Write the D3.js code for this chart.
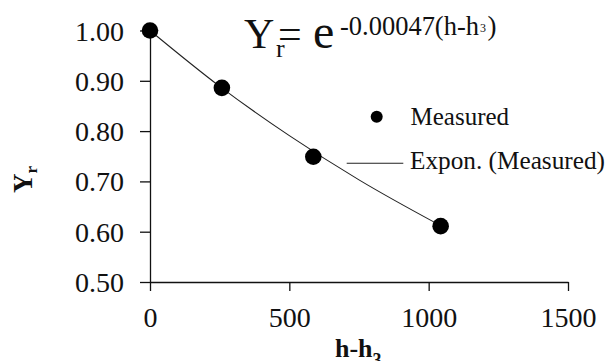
<!DOCTYPE html>
<html><head><meta charset="utf-8">
<script src="https://cdn.jsdelivr.net/npm/d3@7"></script>
</head><body style="margin:0">
<script>
const xValues = [0, 258, 586, 1043];
const yValues = [1.00, 0.886, 0.749, 0.611];
const trendX = [0, 250, 500, 750, 1043];
const trendY = [1.000, 0.889, 0.791, 0.703, 0.612];
const xTicks = [0, 500, 1000, 1500];
const yTicks = [0.50, 0.60, 0.70, 0.80, 0.90, 1.00];
const legendLabels = ["Measured", "Expon. (Measured)"];

const W = 609, H = 361;
const FONT = "Liberation Serif";
const svg = d3.select("body").append("svg").attr("width", W).attr("height", H)
  .style("display", "block").attr("font-family", FONT);

const x = d3.scaleLinear().domain([0, 1500]).range([150, 568]);
const y = d3.scaleLinear().domain([0.5, 1.0]).range([282, 30.5]);

const xAxis = svg.append("g").attr("transform", `translate(0,${y(0.5)})`)
  .call(d3.axisBottom(x).tickValues(xTicks).tickSize(9).tickSizeOuter(0).tickFormat(d3.format("d")));
const yAxis = svg.append("g").attr("transform", `translate(${x(0)},0)`)
  .call(d3.axisLeft(y).tickValues(yTicks).tickSize(10).tickSizeOuter(0).tickFormat(d3.format(".2f")));
[xAxis, yAxis].forEach(g => {
  g.attr("font-family", FONT).attr("font-size", 28);
  g.selectAll("path,line").attr("stroke", "#111").attr("stroke-width", 1.3);
  g.selectAll("text").attr("fill", "#111");
});
xAxis.selectAll("text").attr("dy", null).attr("y", 45);
yAxis.selectAll("text").attr("dy", "0.34em").attr("x", -26);

// trend line
svg.append("path").datum(trendX.map((d, i) => [d, trendY[i]]))
  .attr("fill", "none").attr("stroke", "#222").attr("stroke-width", 1.1)
  .attr("d", d3.line().x(d => x(d[0])).y(d => y(d[1])).curve(d3.curveMonotoneX));

// points
svg.selectAll("circle.pt").data(xValues.map((d, i) => [d, yValues[i]])).enter()
  .append("circle").attr("class", "pt")
  .attr("cx", d => x(d[0])).attr("cy", d => y(d[1])).attr("r", 8.3).attr("fill", "#000");

function txt(parent, xx, yy, size, s) {
  return parent.append("text").attr("x", xx).attr("y", yy).attr("fill", "#111")
    .attr("font-family", FONT).attr("font-size", size).text(s);
}

// legend
svg.append("circle").attr("cx", 376.7).attr("cy", 116.7).attr("r", 6).attr("fill", "#000");
txt(svg, 410.5, 124.5, 25, legendLabels[0]);
svg.append("line").attr("x1", 346.7).attr("x2", 403.3).attr("y1", 163.3).attr("y2", 163.3)
  .attr("stroke", "#222").attr("stroke-width", 1.1);
txt(svg, 410, 168.5, 25, legendLabels[1]).attr("textLength", 195).attr("lengthAdjust", "spacingAndGlyphs");

// equation
const eq = svg.append("g");
txt(eq, 244, 48.3, 42, "Y");
txt(eq, 276, 56.5, 26, "r");
txt(eq, 278, 48.3, 42, "=");
txt(eq, 313, 48.3, 48, "e");
txt(eq, 340, 35, 27, "-0.00047(h-h").attr("textLength", 139).attr("lengthAdjust", "spacingAndGlyphs");
txt(eq, 480, 32, 12, "3");
txt(eq, 487.5, 35, 27, ")");

// x title
const xt = svg.append("text").attr("x", 335).attr("y", 357).attr("font-weight", "bold").attr("fill", "#111")
  .attr("font-family", FONT);
xt.append("tspan").attr("font-size", 26).text("h-h");
xt.append("tspan").attr("font-size", 18).attr("dy", 9).text("3");

// y title
const yt = svg.append("text").attr("transform", "translate(32,193) rotate(-90)").attr("font-weight", "bold")
  .attr("fill", "#111").attr("font-family", FONT);
yt.append("tspan").attr("font-size", 27).text("Y");
yt.append("tspan").attr("font-size", 17).attr("dy", 5).text("r");
</script>
</body></html>
